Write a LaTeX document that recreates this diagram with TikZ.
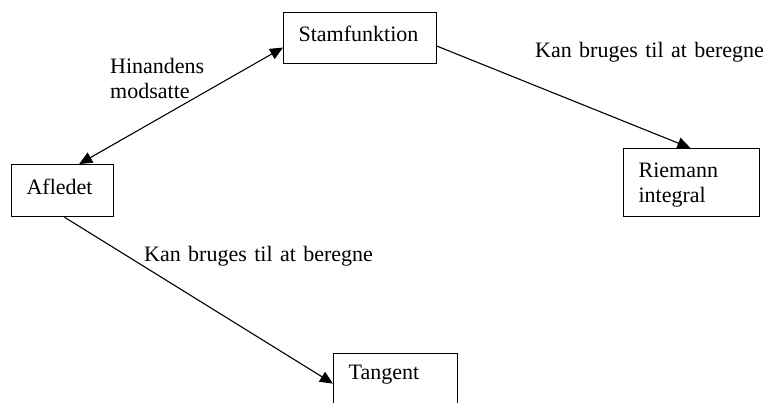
\documentclass[tikz,border=0pt]{standalone}
\usepackage{fontspec}
\setmainfont{Liberation Serif}
\usetikzlibrary{arrows.meta}
% slightly wider word spaces for the connector labels
\newcommand\widerspaces{\spaceskip=7.4pt plus 1pt\relax}
\begin{document}
\begin{tikzpicture}[x=1pt,y=-1pt,
  font=\fontsize{22}{25}\selectfont,
  box/.style={draw, line width=1.2pt, rectangle, anchor=north west,
    inner xsep=15pt, inner ysep=0pt, align=left},
  tip/.tip={Triangle[length=13pt,width=11.5pt]},
  conn/.style={line width=1.1pt, -tip},
  biconn/.style={line width=1.1pt, tip-tip},
  lbl/.style={inner sep=0pt, anchor=base west, align=left,
    execute at begin node=\widerspaces}]
\useasboundingbox (0,0) rectangle (766,402);

% concept boxes
\node[box, text width=123pt, minimum height=51pt, text height=15pt, text depth=8pt]
  (stam) at (283,12) {Stamfunktion};
\node[box, text width=72pt, minimum height=52pt, text height=15pt, text depth=8pt]
  (afl) at (11,164) {Afledet};
\node[box, text width=106pt, minimum height=68pt, text height=15pt, text depth=25pt]
  (riem) at (623,148) {Riemann\\integral};
\node[box, text width=94pt, minimum height=60pt, text height=15pt, text depth=23pt]
  (tang) at (333,353) {Tangent};

% connectors
\draw[biconn] (afl.58.4) -- (stam.187.1);
\draw[conn] (stam.354.3) -- (riem.92);
\draw[conn] (afl.274.4) -- (tang.west);

% connector labels
\node[lbl, text width=100pt] (hin) at (110,73) {Hinandens\\modsatte};
\node[lbl] (kan1) at (535,57) {Kan bruges til at beregne};
\node[lbl] (kan2) at (144,261) {Kan bruges til at beregne};
\end{tikzpicture}
\end{document}
